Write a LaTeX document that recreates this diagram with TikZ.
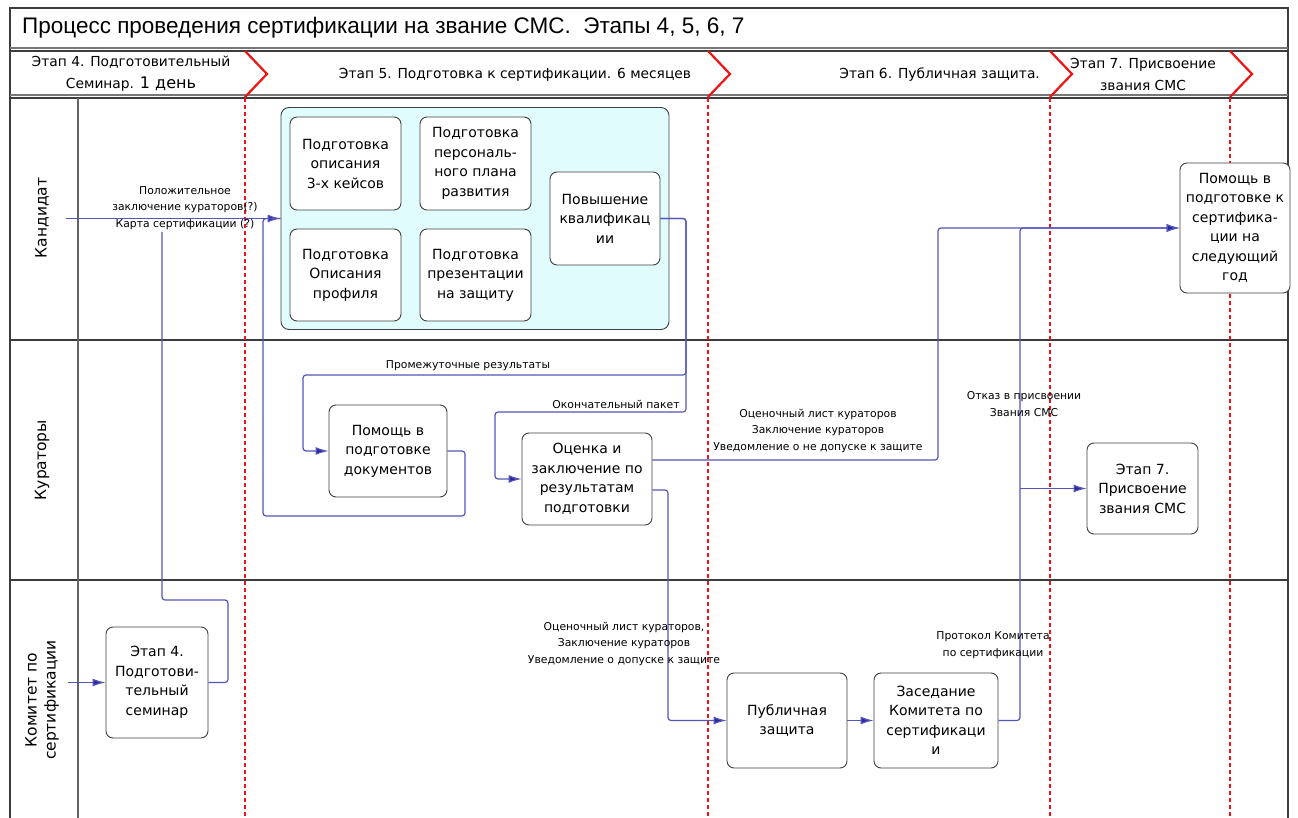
\documentclass[tikz,border=0pt]{standalone}
\usepackage{fontspec}
\setmainfont{DejaVu Sans}
\newfontfamily\titlefont{Liberation Sans}
\usetikzlibrary{arrows.meta}
\definecolor{flow}{RGB}{85,85,185}
\definecolor{tipc}{RGB}{40,40,160}
\definecolor{boxfill}{RGB}{224,252,252}
\definecolor{redline}{RGB}{238,20,20}
\definecolor{rule}{RGB}{60,60,60}
\begin{document}
\begin{tikzpicture}[x=1pt,y=-1pt,
  box/.style={draw=black!75,line width=0.9pt,rounded corners=7pt,fill=white,align=center,inner sep=2pt,font=\fontsize{14}{19.5}\selectfont},
  flowline/.style={draw=flow,line width=1.2pt,rounded corners=3pt},
  flowarrow/.style={flowline,-{Latex[length=13pt,width=8pt,fill=tipc]}},
  lbl/.style={font=\fontsize{10.8}{16.5}\selectfont,align=center,inner sep=0pt},
  hdr/.style={font=\fontsize{13.8}{22}\selectfont,align=center,inner sep=0pt},
  lane/.style={font=\fontsize{15.5}{19}\selectfont,align=center,rotate=90,inner sep=0pt},
  reddash/.style={draw=redline,line width=2.6pt,dash pattern=on 4pt off 3pt},
  chev/.style={draw=redline,line width=2.2pt}
]
\useasboundingbox (0,0) rectangle (1298,818);
\fill[white] (0,0) rectangle (1298,818);
% frame
\draw[rule,line width=1.2pt] (10,818) -- (10,8) -- (1288,8) -- (1288,818);
\draw[rule!70,line width=1.2pt] (10,48) -- (1288,48);
\draw[rule,line width=1.2pt] (10,51) -- (1288,51);
\draw[rule!70,line width=1.2pt] (10,95) -- (1288,95);
\draw[rule,line width=1.2pt] (10,98) -- (1288,98);
\draw[rule,line width=1.2pt] (10,340) -- (1288,340);
\draw[rule,line width=1.2pt] (10,580) -- (1288,580);
\draw[rule!80,line width=1.2pt] (78,98) -- (78,818);
% title
\node[anchor=west,inner sep=0pt,font=\titlefont\fontsize{22.5}{26}\selectfont] (title) at (22,28) {Процесс проведения сертификации на звание СМС.\ \ Этапы 4, 5, 6, 7};
% header
\node[hdr] (h4) at (131,74) {Этап 4. Подготовительный\\Семинар. {\fontsize{16}{16}\selectfont 1 день}};
\node[hdr] (h5) at (515,75) {Этап 5. Подготовка к сертификации. 6 месяцев};
\node[hdr,anchor=east] (h6) at (1040,75) {Этап 6. Публичная защита.};
\node[hdr] (h7) at (1143,74) {Этап 7. Присвоение\\звания СМС};
% red chevrons and dashed lines
\foreach \x in {245,708,1050,1230}{
  \draw[chev] (\x,51) -- (\x+22,74) -- (\x,97);
  \draw[reddash] (\x,98) -- (\x,818);
}
% lane labels
\node[lane] (lcand) at (42,218) {Кандидат};
\node[lane] (lcur) at (42,460) {Кураторы};
\node[lane] (lcom) at (42,700) {Комитет по\\сертификации};
% preparation group
\node[draw=black!75,line width=0.9pt,rounded corners=8pt,fill=boxfill,minimum width=388pt,minimum height=222pt] (prep) at (475,218.5) {};
\node[box,minimum width=111pt,minimum height=93pt] (c3) at (345.5,163.5) {Подготовка\\описания\\3-х кейсов};
\node[box,minimum width=111pt,minimum height=93pt] (plan) at (475.5,163.5) {Подготовка\\персональ-\\ного плана\\развития};
\node[box,minimum width=111pt,minimum height=92pt] (prof) at (345.5,275) {Подготовка\\Описания\\профиля};
\node[box,minimum width=111pt,minimum height=92pt] (pres) at (475.5,275) {Подготовка\\презентации\\на защиту};
\node[box,minimum width=110pt,minimum height=93pt] (qual) at (605,218.5) {Повышение\\квалификац\\ии};
% other nodes
\node[box,minimum width=110pt,minimum height=130pt] (nexty) at (1235,228) {Помощь в\\подготовке к\\сертифика-\\ции на\\следующий\\год};
\node[box,minimum width=118pt,minimum height=92pt] (docs) at (388,451) {Помощь в\\подготовке\\документов};
\node[box,minimum width=130pt,minimum height=92pt] (eval) at (587,479) {Оценка и\\заключение по\\результатам\\подготовки};
\node[box,minimum width=111pt,minimum height=91pt] (st7) at (1142.5,488.5) {Этап 7.\\Присвоение\\звания СМС};
\node[box,minimum width=102pt,minimum height=111pt] (sem) at (157,682.5) {Этап 4.\\Подготови-\\тельный\\семинар};
\node[box,minimum width=120pt,minimum height=95pt] (pub) at (787,720.5) {Публичная\\защита};
\node[box,minimum width=124pt,minimum height=95pt] (meet) at (936,720.5) {Заседание\\Комитета по\\сертификаци\\и};
% connectors
\coordinate (candin) at (66,218.5);
\coordinate (comin) at (68,682.5);
\coordinate (semend) at (162,232);
\coordinate (br) at (1020,488.5);
\draw[flowarrow] (candin) -- (prep.west);
\draw[flowarrow] (comin) -- (sem.west);
\draw[flowline] (sem.east) -- (228,682.5) -- (228,600) -- (162,600) -- (semend);
\draw[flowline] (docs.east) -- (465,451) -- (465,516) -- (263,516) -- (263,218.5) -- (prep.west);
\draw[flowarrow] (qual.east) -- (686,218.5) -- (686,375) -- (303,375) |- (docs.west);
\draw[flowarrow] (qual.east) -- (686,218.5) -- (686,412) -- (495,412) |- (eval.west);
\draw[flowarrow] ([yshift=19pt]eval.east) -- (938,460) -- (938,228) -- (nexty.west);
\draw[flowarrow] ([yshift=-11pt]eval.east) -- (668,490) -- (668,720.5) -- (pub.west);
\draw[flowarrow] (pub.east) -- (meet.west);
\draw[flowarrow] (meet.east) -- (1020,720.5) -- (1020,228) -- (nexty.west);
\draw[flowarrow] (br) -- (st7.west);
% connector labels
\node[lbl] (l1) at (185,208) {Положительное\\заключение кураторов(?)\\Карта сертификации (?)};
\node[lbl] (l2) at (468,366) {Промежуточные результаты};
\node[lbl] (l3) at (616,404) {Окончательный пакет};
\node[lbl] (l4) at (818,431) {Оценочный лист кураторов\\Заключение кураторов\\Уведомление о не допуске к защите};
\node[lbl] (l5) at (624,644) {Оценочный лист кураторов,\\Заключение кураторов\\Уведомление о допуске к защите};
\node[lbl] (l6) at (1024,404) {Отказ в присвоении\\Звания СМС};
\node[lbl] (l7) at (993,645) {Протокол Комитета\\по сертификации};
\end{tikzpicture}
\end{document}
